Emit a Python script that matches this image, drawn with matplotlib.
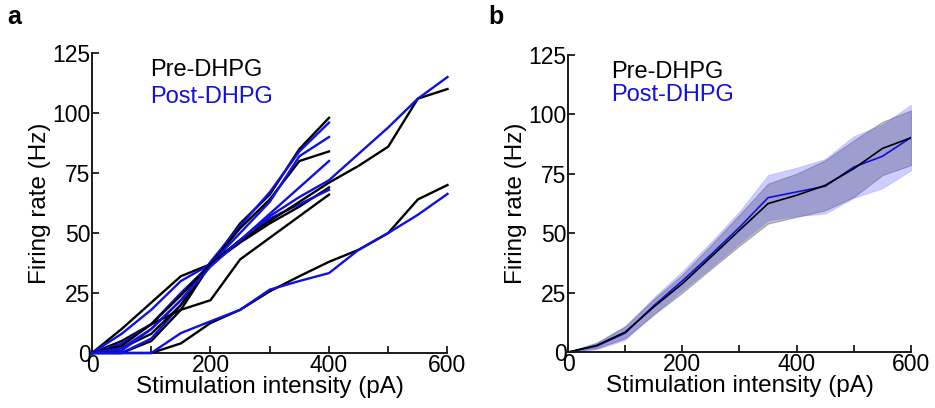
import numpy as np
import matplotlib
matplotlib.use("Agg")
import matplotlib.pyplot as plt
from matplotlib.ticker import MultipleLocator

plt.rcParams['font.family'] = ['Liberation Sans', 'DejaVu Sans']

# ---- data: panel a (individual cells) ----
x400 = [0, 50, 100, 150, 200, 250, 300, 350, 400]
x600 = [0, 50, 100, 150, 200, 250, 300, 350, 400, 450, 500, 550, 600]

pre_a = [0, 0, 5, 18, 37, 54, 66, 85, 98]
post_a = [0, 0, 6, 20, 38, 53, 67, 84, 96]
pre_b = [0, 2, 8, 20, 37, 52, 64, 80, 84]
post_b = [0, 1, 10, 22, 37, 50, 63, 82, 90]
pre_c = [0, 5, 12, 18, 22, 39, 48, 57, 66]
post_c = [0, 4, 12, 25, 37, 47, 58, 69, 80]
pre_d = [0, 10, 21, 32, 37, 46, 54, 61, 69]
post_d = [0, 8, 18, 30, 37, 47, 56, 62, 68]
pre_e = [0, 3, 12, 24, 37, 47, 55, 63, 71, 78, 86, 106, 110]
post_e = [0, 2, 10, 22, 36, 47, 57, 65, 72, 83, 94, 106, 115]
pre_f = [0, 0, 0, 4, 12.5, 18, 25.7, 32, 38, 43, 50, 64, 70]
post_f = [0, 0, 0, 8.3, 13.2, 18, 26.4, 30, 33.3, 43, 50, 57.6, 66.3]

# ---- data: panel b (mean +/- SEM) ----
x_mean = [0, 50, 100, 150, 200, 250, 300, 350, 400, 450, 500, 550, 600]
pre_mean = [0, 2.8, 8.4, 19, 28.8, 40, 51.3, 62.5, 66, 70.2, 77.2, 85.7, 90.2]
post_mean = [0, 2.5, 8, 19.5, 30, 41, 52.5, 65, 67.4, 69.8, 77.9, 82.4, 90.3]
pre_sem = [0, 1.2, 2.5, 3.2, 3.8, 5, 6.5, 8.4, 9.1, 10.5, 11.9, 11.2, 11.5]
post_sem = [0, 1.3, 2.8, 3.5, 4, 5.3, 6.7, 9.5, 10.2, 11.5, 13, 13.4, 13.8]

xlabel = 'Stimulation intensity (pA)'
ylabel = 'Firing rate (Hz)'

BLUE = '#1010e0'
FS_TICK = 16.5
FS_LAB = 17.5
FS_LEG = 17

fig = plt.figure(figsize=(9.35, 4.08), dpi=100)
axA = fig.add_axes([0.0984, 0.1348, 0.3802, 0.7352])
axB = fig.add_axes([0.6075, 0.137, 0.3668, 0.728])


def style(ax):
    ax.set_xlim(0, 600)
    ax.set_ylim(0, 125)
    ax.spines['top'].set_visible(False)
    ax.spines['right'].set_visible(False)
    for s in ('left', 'bottom'):
        ax.spines[s].set_linewidth(1.4)
        ax.spines[s].set_color('#1a1a1a')
    ax.xaxis.set_major_locator(MultipleLocator(200))
    ax.xaxis.set_minor_locator(MultipleLocator(100))
    ax.yaxis.set_major_locator(MultipleLocator(25))
    ax.tick_params(which='both', direction='in', length=5, width=1.3,
                   labelsize=FS_TICK, color='#1a1a1a', pad=1)
    ax.set_xlabel(xlabel, fontsize=FS_LAB, labelpad=-1)
    ax.set_ylabel(ylabel, fontsize=FS_LAB, labelpad=1)


style(axA)
style(axB)

lw = 1.7
pairs = [(x400, pre_a, post_a), (x400, pre_b, post_b), (x400, pre_c, post_c),
         (x400, pre_d, post_d), (x600, pre_e, post_e), (x600, pre_f, post_f)]
for xs, pre, post in pairs:
    axA.plot(xs, pre, color='black', lw=lw, clip_on=False, zorder=3)
    axA.plot(xs, post, color=BLUE, lw=lw, clip_on=False, zorder=3)

xm = np.array(x_mean)
pm, ps = np.array(pre_mean), np.array(pre_sem)
qm, qs = np.array(post_mean), np.array(post_sem)
axB.fill_between(xm, pm - ps, pm + ps, facecolor='#808080', alpha=0.5,
                 edgecolor='#707070', lw=0.8)
axB.fill_between(xm, qm - qs, qm + qs, facecolor='#3a3aff', alpha=0.25,
                 edgecolor='#7070ff', lw=0.8)
axB.plot(xm, qm, color=BLUE, lw=1.2)
axB.plot(xm, pm, color='black', lw=1.2)

for ax, tx, ty1, ty2 in [(axA, 0.163, 0.943, 0.853), (axB, 0.127, 0.944, 0.865)]:
    ax.text(tx, ty1, 'Pre-DHPG', transform=ax.transAxes, fontsize=FS_LEG,
            color='black', va='center', ha='left')
    ax.text(tx, ty2, 'Post-DHPG', transform=ax.transAxes, fontsize=FS_LEG,
            color=BLUE, va='center', ha='left')

fig.text(0.008, 0.958, 'a', fontsize=18, fontweight='bold', va='center')
fig.text(0.522, 0.958, 'b', fontsize=18, fontweight='bold', va='center')

fig.savefig('out.png', dpi=100)
